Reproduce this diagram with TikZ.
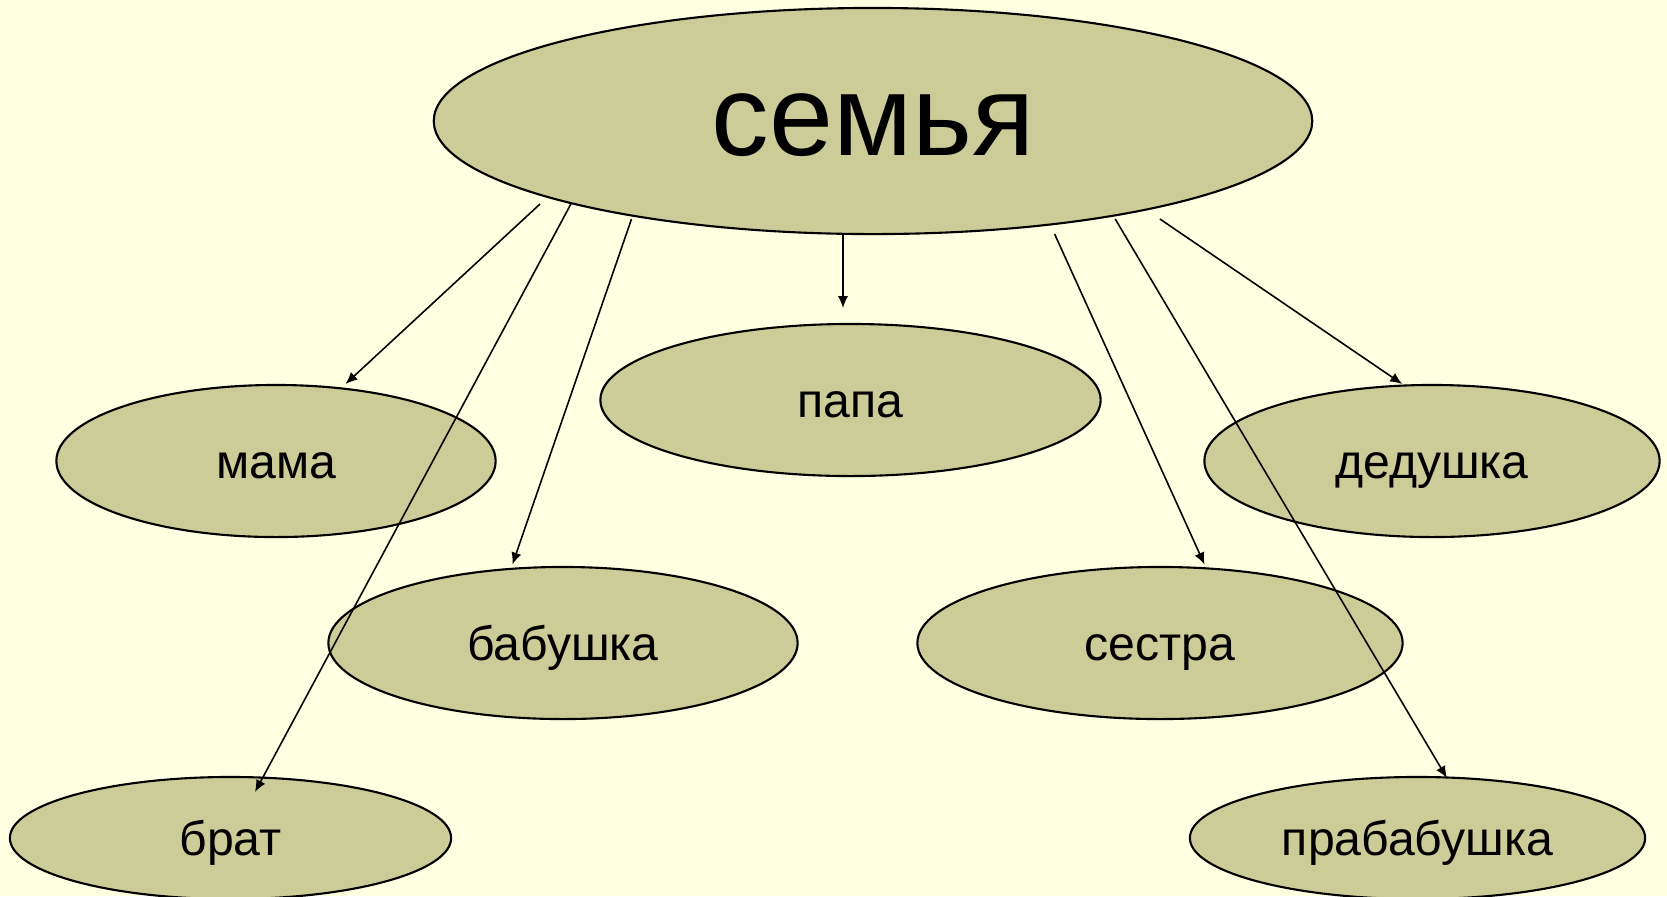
\documentclass[tikz,border=0pt]{standalone}
\usepackage{fontspec}
\setmainfont{Liberation Sans}
\usetikzlibrary{shapes.geometric,arrows.meta}
\definecolor{bgyellow}{RGB}{255,255,225}
\definecolor{ellfill}{RGB}{204,204,153}
\begin{document}
\begin{tikzpicture}[x=0.01cm,y=-0.01cm,
  elt/.style={shape=ellipse,draw=black,line width=0.6pt,fill=ellfill,inner sep=0pt,
    text height=11.7pt,text depth=2pt,
    font=\fontsize{13.7pt}{16pt}\selectfont},
  arr/.style={line width=0.45pt,-{Latex[length=3.4pt,width=2.9pt]}}]
\fill[bgyellow] (0,0) rectangle (1667,896);
\useasboundingbox (0,0) rectangle (1667,896);
% top node
\node (sem) at (873,121) [elt,minimum width=8.78cm,minimum height=2.26cm,
  text height=26.1pt,text depth=6.6pt,
  font=\fontsize{32.7pt}{36pt}\selectfont] {семья};
% family members
\node (mama) at (276,461) [elt,minimum width=4.39cm,minimum height=1.52cm] {мама};
\node (papa) at (850.5,400) [elt,minimum width=5cm,minimum height=1.52cm] {папа};
\node (ded) at (1432,461) [elt,minimum width=4.55cm,minimum height=1.52cm] {дедушка};
\node (bab) at (563,643) [elt,minimum width=4.69cm,minimum height=1.52cm] {бабушка};
\node (ses) at (1160,643) [elt,minimum width=4.85cm,minimum height=1.52cm] {сестра};
\node (brat) at (230.5,838) [elt,minimum width=4.41cm,minimum height=1.22cm] {брат};
\node (prab) at (1417.5,838) [elt,minimum width=4.55cm,minimum height=1.22cm] {прабабушка};
% arrow ends
\coordinate (s1) at (540,204);
\coordinate (s2) at (570.9,204);
\coordinate (s3) at (631.5,219);
\coordinate (s4) at (843,234);
\coordinate (s5) at (1054.6,234);
\coordinate (s6) at (1115.2,219);
\coordinate (s7) at (1159.9,219);
\coordinate (t1) at (345.5,384);
\coordinate (t2) at (255,792);
\coordinate (t3) at (512.4,564.5);
\coordinate (t4) at (843,308);
\coordinate (t5) at (1204.5,564.5);
\coordinate (t6) at (1446.9,778);
\coordinate (t7) at (1402.2,384);
\draw[arr] (s1) -- (t1);
\draw[arr] (s2) -- (t2);
\draw[arr] (s3) -- (t3);
\draw[arr] (s4) -- (t4);
\draw[arr] (s5) -- (t5);
\draw[arr] (s6) -- (t6);
\draw[arr] (s7) -- (t7);
\end{tikzpicture}
\end{document}
